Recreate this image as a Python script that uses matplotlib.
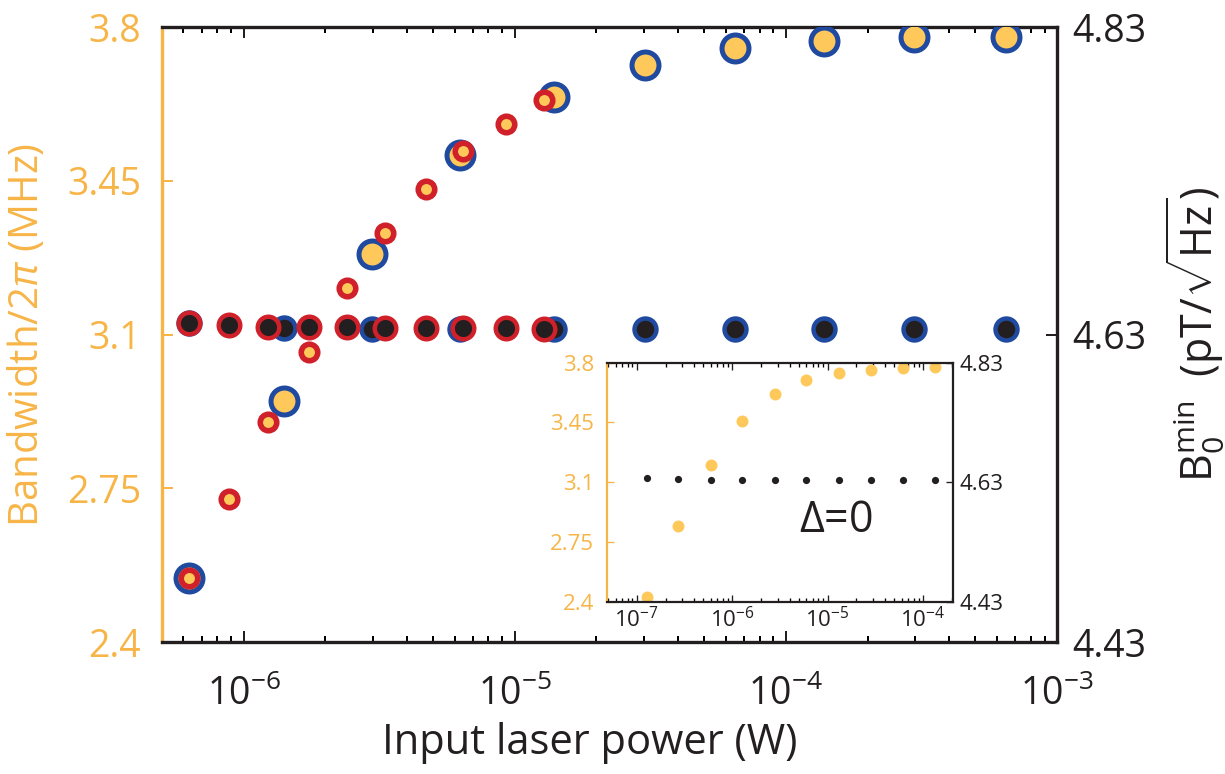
import numpy as np
import matplotlib
matplotlib.use("Agg")
import matplotlib.pyplot as plt
from matplotlib.ticker import LogLocator, NullFormatter

plt.rcParams['font.family'] = ['Open Sans', 'DejaVu Sans']
plt.rcParams['mathtext.fontset'] = 'custom'
plt.rcParams['mathtext.rm'] = 'Open Sans'
plt.rcParams['mathtext.it'] = 'Open Sans:italic'

ORANGE = '#F7B548'
YELLOW = '#FEC85A'
BLUE = '#1F4AA0'
RED = '#D0202A'
BLACK = '#231F20'

# main panel, blue-edged series
power_blue = [6.3e-7, 1.41e-6, 2.98e-6, 6.3e-6, 1.39e-5, 3.03e-5, 6.5e-5, 1.38e-4, 2.98e-4, 6.5e-4]
bw_blue = [2.545, 2.948, 3.283, 3.508, 3.640, 3.713, 3.752, 3.768, 3.777, 3.777]
bmin_blue = [4.6375, 4.6345, 4.6336, 4.6336, 4.6336, 4.6338, 4.6338, 4.6338, 4.6338, 4.6338]

# main panel, red-edged series
power_red = [6.3e-7, 8.87e-7, 1.23e-6, 1.74e-6, 2.40e-6, 3.33e-6, 4.72e-6, 6.47e-6, 9.27e-6, 1.28e-5]
bw_red = [2.545, 2.725, 2.900, 3.060, 3.205, 3.331, 3.431, 3.518, 3.579, 3.634]
bmin_red = [4.6375, 4.6363, 4.6350, 4.6350, 4.6350, 4.6343, 4.6343, 4.6343, 4.6343, 4.6336]

# inset (Delta = 0)
power_in = [1.27e-7, 2.73e-7, 5.98e-7, 1.28e-6, 2.79e-6, 5.98e-6, 1.33e-5, 2.86e-5, 6.12e-5, 1.33e-4]
bw_in = [2.425, 2.843, 3.201, 3.456, 3.614, 3.697, 3.739, 3.759, 3.767, 3.775]
bmin_in = [4.6375, 4.6350, 4.6340, 4.6330, 4.6330, 4.6330, 4.6330, 4.6330, 4.6330, 4.6330]

bw_ticks = [2.4, 2.75, 3.1, 3.45, 3.8]
bmin_ticks = [4.43, 4.63, 4.83]

fig = plt.figure(figsize=(12.25, 7.74), dpi=100)
ax1 = fig.add_axes([0.1322, 0.1705, 0.7307, 0.7946])
ax2 = ax1.twinx()


def style_axes(a, b, fs, lw, major, minor, lpad, rpad, xpad):
    a.set_xscale('log')
    a.tick_params(axis='both', which='both', direction='in', top=True, width=lw * 0.6)
    a.tick_params(axis='both', which='major', length=major)
    a.tick_params(axis='both', which='minor', length=minor)
    a.tick_params(axis='y', colors=ORANGE, labelsize=fs, right=False, pad=lpad)
    a.tick_params(axis='x', colors=BLACK, labelsize=fs, pad=xpad)
    a.xaxis.set_minor_locator(LogLocator(base=10, subs=np.arange(2, 10), numticks=20))
    a.xaxis.set_minor_formatter(NullFormatter())
    for s in a.spines.values():
        s.set_linewidth(lw)
        s.set_color(BLACK)
    a.spines['left'].set_color(ORANGE)
    a.spines['right'].set_visible(False)
    b.spines['left'].set_visible(False)
    b.spines['top'].set_visible(False)
    b.spines['bottom'].set_visible(False)
    b.spines['right'].set_linewidth(lw)
    b.spines['right'].set_color(BLACK)
    b.tick_params(axis='y', direction='in', length=major, width=lw * 0.6,
                  colors=BLACK, labelsize=fs, pad=rpad)
    a.set_ylim(2.4, 3.8)
    a.set_yticks(bw_ticks)
    a.set_yticklabels([f'{v:g}' for v in bw_ticks])
    b.set_ylim(4.43, 4.83)
    b.set_yticks(bmin_ticks)
    b.set_yticklabels([f'{v:.2f}' for v in bmin_ticks])


style_axes(ax1, ax2, 27, 2.4, 8, 4.5, 15, 11, 24)
ax1.set_xlim(5e-7, 1e-3)
ax1.set_xticks([1e-6, 1e-5, 1e-4, 1e-3])

ax1.plot(power_blue, bw_blue, 'o', ms=19.4, mfc=YELLOW, mec=BLUE, mew=3.6, zorder=3)
ax1.plot(power_red, bw_red, 'o', ms=11.9, mfc=YELLOW, mec=RED, mew=4.0, zorder=4)
ax2.plot(power_blue, bmin_blue, 'o', ms=15.8, mfc=BLACK, mec=BLUE, mew=3.2, zorder=3)
ax2.plot(power_red, bmin_red, 'o', ms=15.5, mfc=BLACK, mec=RED, mew=3.2, zorder=4)

ax1.set_xlabel('Input laser power (W)', fontsize=30, color=BLACK, labelpad=6, x=0.478)
ax1.set_ylabel(r'Bandwidth/2$\pi$ (MHz)', fontsize=29, color=ORANGE, labelpad=14)
ax2.set_ylabel(r'$\mathregular{B_0^{min}}$  (pT/$\sqrt{\mathregular{Hz}}$)',
               fontsize=31, color=BLACK, labelpad=12)

# inset
ax3 = fig.add_axes([0.4953, 0.2226, 0.2827, 0.3088])
ax4 = ax3.twinx()
style_axes(ax3, ax4, 16, 1.6, 5, 3, 9, 5, 4)
ax3.set_xlim(4.84e-8, 2.07e-4)
ax3.set_xticks([1e-7, 1e-6, 1e-5, 1e-4])
ax3.plot(power_in, bw_in, 'o', ms=8.6, color=YELLOW, mec='none')
ax4.plot(power_in, bmin_in, 'o', ms=5.2, color=BLACK, mec='none')
ax3.text(0.555, 0.34, r'$\mathregular{\Delta}$=0', transform=ax3.transAxes, fontsize=31,
         color=BLACK, ha='left', va='center')

fig.savefig('out.png', dpi=100)
